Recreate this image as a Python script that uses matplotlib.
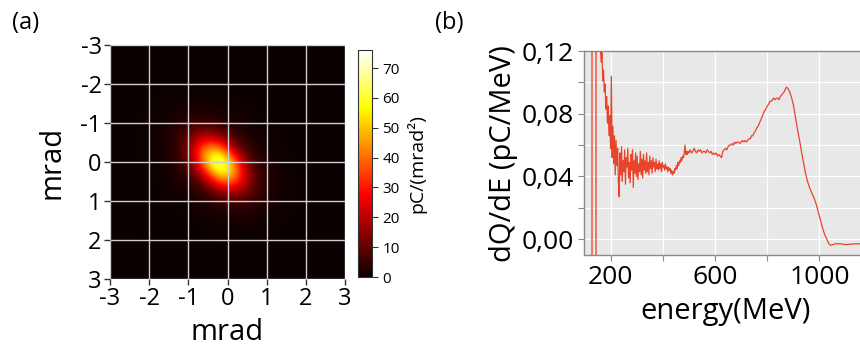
import matplotlib
matplotlib.use("Agg")
import matplotlib.pyplot as plt
import numpy as np

plt.rcParams['font.family'] = ['Open Sans', 'DejaVu Sans']

# ---------------- data: panel (a) beam profile (pC/mrad^2) ----------------
beam_center_x = -0.2     # mrad
beam_center_y = 0.05     # mrad
beam_step = 0.32         # mrad between grid samples
beam_rows = [
    [0.1, 0.2, 0.3, 0.3, 0.4, 0.4, 0.3, 0.2, 0.1, 0, 0, 0, 0],
    [0.2, 0.3, 0.6, 0.8, 1.0, 0.9, 0.8, 0.5, 0.3, 0.1, 0.1, 0, 0],
    [0.3, 0.6, 1.1, 1.8, 2.4, 2.3, 1.8, 1.3, 0.7, 0.4, 0.1, 0.1, 0],
    [0.3, 0.8, 1.8, 3.9, 6.7, 7.0, 4.8, 2.8, 1.7, 0.8, 0.4, 0.1, 0],
    [0.4, 1.0, 2.4, 6.7, 16.9, 24.2, 17.7, 7.8, 3.3, 1.7, 0.7, 0.3, 0.1],
    [0.4, 0.9, 2.3, 7.0, 24.2, 51.0, 51.6, 25.0, 7.8, 2.8, 1.3, 0.5, 0.2],
    [0.3, 0.8, 1.8, 4.8, 17.7, 51.6, 76.0, 51.6, 17.7, 4.8, 1.8, 0.8, 0.3],
    [0.2, 0.5, 1.3, 2.8, 7.8, 25.0, 51.6, 51.0, 24.2, 7.0, 2.3, 0.9, 0.4],
    [0.1, 0.3, 0.7, 1.7, 3.3, 7.8, 17.7, 24.2, 16.9, 6.7, 2.4, 1.0, 0.4],
    [0, 0.1, 0.4, 0.8, 1.7, 2.8, 4.8, 7.0, 6.7, 3.9, 1.8, 0.8, 0.3],
    [0, 0.1, 0.1, 0.4, 0.7, 1.3, 1.8, 2.3, 2.4, 1.8, 1.1, 0.6, 0.3],
    [0, 0, 0.1, 0.1, 0.3, 0.5, 0.8, 0.9, 1.0, 0.8, 0.6, 0.3, 0.2],
    [0, 0, 0, 0, 0.1, 0.2, 0.3, 0.4, 0.4, 0.3, 0.3, 0.2, 0.1],
]
mrad_ticks = [-3, -2, -1, 0, 1, 2, 3]
cbar_ticks = [0, 10, 20, 30, 40, 50, 60, 70]
cbar_max = 76

# ---------------- data: panel (b) spectrum ----------------
spike_energy = [130, 143]

energy_noisy = np.arange(158, 501, 3)          # MeV, 3 MeV sampling
dqde_noisy = [
    0.140, 0.122, 0.113, 0.119, 0.101, 0.108, 0.094, 0.099, 0.083, 0.091, 0.074,
    0.085, 0.066, 0.079, 0.058, 0.104, 0.052, 0.072, 0.048, 0.066, 0.041,
    0.063, 0.047, 0.058, 0.036, 0.027, 0.055, 0.041, 0.059, 0.037, 0.050,
    0.043, 0.057, 0.035, 0.052, 0.046, 0.058, 0.039, 0.049, 0.036, 0.054,
    0.044, 0.057, 0.033, 0.050, 0.042, 0.055, 0.040, 0.053, 0.038, 0.048,
    0.043, 0.056, 0.041, 0.051, 0.039, 0.054, 0.044, 0.050, 0.042, 0.055,
    0.043, 0.049, 0.041, 0.053, 0.045, 0.050, 0.042, 0.052, 0.046, 0.049,
    0.043, 0.051, 0.045, 0.048, 0.044, 0.050, 0.045, 0.048, 0.043, 0.049,
    0.046, 0.047, 0.044, 0.048, 0.045, 0.046, 0.043, 0.046, 0.044, 0.045,
    0.042, 0.044, 0.041, 0.043, 0.042, 0.045, 0.044, 0.047, 0.045, 0.049,
    0.047, 0.050, 0.049, 0.052, 0.050, 0.053, 0.052, 0.055, 0.060, 0.054,
    0.056, 0.054, 0.056, 0.055,
]

energy_mid = np.arange(505, 871, 5)            # MeV, 5 MeV sampling
dqde_mid = [
    0.057, 0.055, 0.056, 0.058, 0.056, 0.055, 0.057, 0.056, 0.057, 0.055,
    0.056, 0.056, 0.055, 0.057, 0.056, 0.055, 0.056, 0.054, 0.055, 0.054,
    0.055, 0.053, 0.054, 0.053, 0.052, 0.056, 0.057, 0.058, 0.057, 0.059,
    0.060, 0.060, 0.061, 0.060, 0.062, 0.061, 0.062, 0.062, 0.061, 0.062,
    0.063, 0.062, 0.063, 0.062, 0.063, 0.064, 0.064, 0.066, 0.066, 0.068,
    0.069, 0.071, 0.072, 0.074, 0.076, 0.078, 0.080, 0.082, 0.083, 0.085,
    0.086, 0.088, 0.088, 0.089, 0.090, 0.089, 0.090, 0.090, 0.089, 0.091,
    0.092, 0.093, 0.094, 0.096,
]

energy_tail = [874, 880, 886, 892, 900, 908, 916, 924, 932, 940, 948, 956, 964, 972,
               980, 988, 996, 1004, 1012, 1020, 1028, 1036, 1044, 1060, 1080, 1100, 1140, 1190]
dqde_tail = [0.097, 0.096, 0.094, 0.091, 0.086, 0.078, 0.070, 0.063, 0.055, 0.048, 0.041, 0.036, 0.032, 0.029,
             0.026, 0.022, 0.017, 0.012, 0.007, 0.003, 0.000, -0.003, -0.004, -0.003, -0.003, -0.0035, -0.003, -0.003]

y_ticks = [0.00, 0.04, 0.08, 0.12]
y_ticklabels = ["0,00", "0,04", "0,08", "0,12"]
y_minor = [0.02, 0.06, 0.10]
x_ticks = [200, 600, 1000]
x_minor = [400, 800]

energy = np.concatenate([energy_noisy, energy_mid, energy_tail])
dqde = np.concatenate([dqde_noisy, dqde_mid, dqde_tail])

# ---------------- figure ----------------
fig = plt.figure(figsize=(8.6, 3.48), dpi=100)

cmap = plt.get_cmap('hot')
axa = fig.add_axes([0.1279, 0.1983, 0.2733, 0.6724])
axa.set_facecolor(cmap(0.0))
Z = np.array(beam_rows)
half = beam_step * (Z.shape[0] / 2.0)
im = axa.imshow(Z, cmap=cmap, vmin=0, vmax=cbar_max, origin='upper',
                extent=(beam_center_x - half, beam_center_x + half,
                        beam_center_y + half, beam_center_y - half),
                interpolation='bicubic', zorder=1)
axa.set_xlim(-3, 3)
axa.set_ylim(3, -3)
axa.set_aspect('auto')
axa.set_xticks(mrad_ticks)
axa.set_yticks(mrad_ticks)
axa.set_xticklabels([str(t) for t in mrad_ticks])
axa.set_yticklabels([str(t) for t in mrad_ticks])
axa.grid(True, color='#d0d0d0', lw=1.0, zorder=2)
axa.set_axisbelow(False)
for s in axa.spines.values():
    s.set_visible(False)
axa.tick_params(labelsize=17, length=4, width=1, pad=2, color='#333333')
axa.set_xlabel('mrad', fontsize=21, labelpad=5)
axa.set_ylabel('mrad', fontsize=21, labelpad=10)
fig.text(0.014, 0.935, '(a)', fontsize=17, va='center', ha='left')

cax = fig.add_axes([0.4163, 0.204, 0.0163, 0.652])
cb = fig.colorbar(im, cax=cax, ticks=cbar_ticks)
cb.outline.set_edgecolor('#333333')
cb.outline.set_linewidth(0.8)
cax.tick_params(labelsize=11, length=4, width=0.8, color='#333333')
cb.set_label('pC/(mrad²)', fontsize=14, labelpad=5)

axb = fig.add_axes([0.679, 0.267, 0.33, 0.586])
axb.set_facecolor('#e8e8e8')
axb.vlines(spike_energy, -0.05, 0.2, color='#e8503a', lw=1.2, alpha=0.85, zorder=3)
axb.plot(energy, dqde, color='#e8442c', lw=0.9, zorder=3)
axb.set_xlim(98, 1185)
axb.set_ylim(-0.0102, 0.12)
axb.set_yticks(y_ticks)
axb.set_yticklabels(y_ticklabels)
axb.set_yticks(y_minor, minor=True)
axb.set_xticks(x_ticks)
axb.set_xticks(x_minor, minor=True)
axb.grid(True, which='both', color='white', lw=0.9)
axb.set_axisbelow(True)
for k in ['top', 'left', 'bottom']:
    axb.spines[k].set_color('#8a8a8a')
    axb.spines[k].set_linewidth(1.0)
axb.spines['right'].set_visible(False)
axb.tick_params(which='major', labelsize=19, length=4, width=0.8, color='#8a8a8a', pad=3)
axb.tick_params(which='minor', length=4, width=0.8, color='#8a8a8a')
axb.set_xlabel('energy(MeV)', fontsize=21, labelpad=5)
axb.set_ylabel('dQ/dE (pC/MeV)', fontsize=21, labelpad=3)
fig.text(0.506, 0.935, '(b)', fontsize=17, va='center', ha='left')

fig.savefig('out.png', dpi=100)
